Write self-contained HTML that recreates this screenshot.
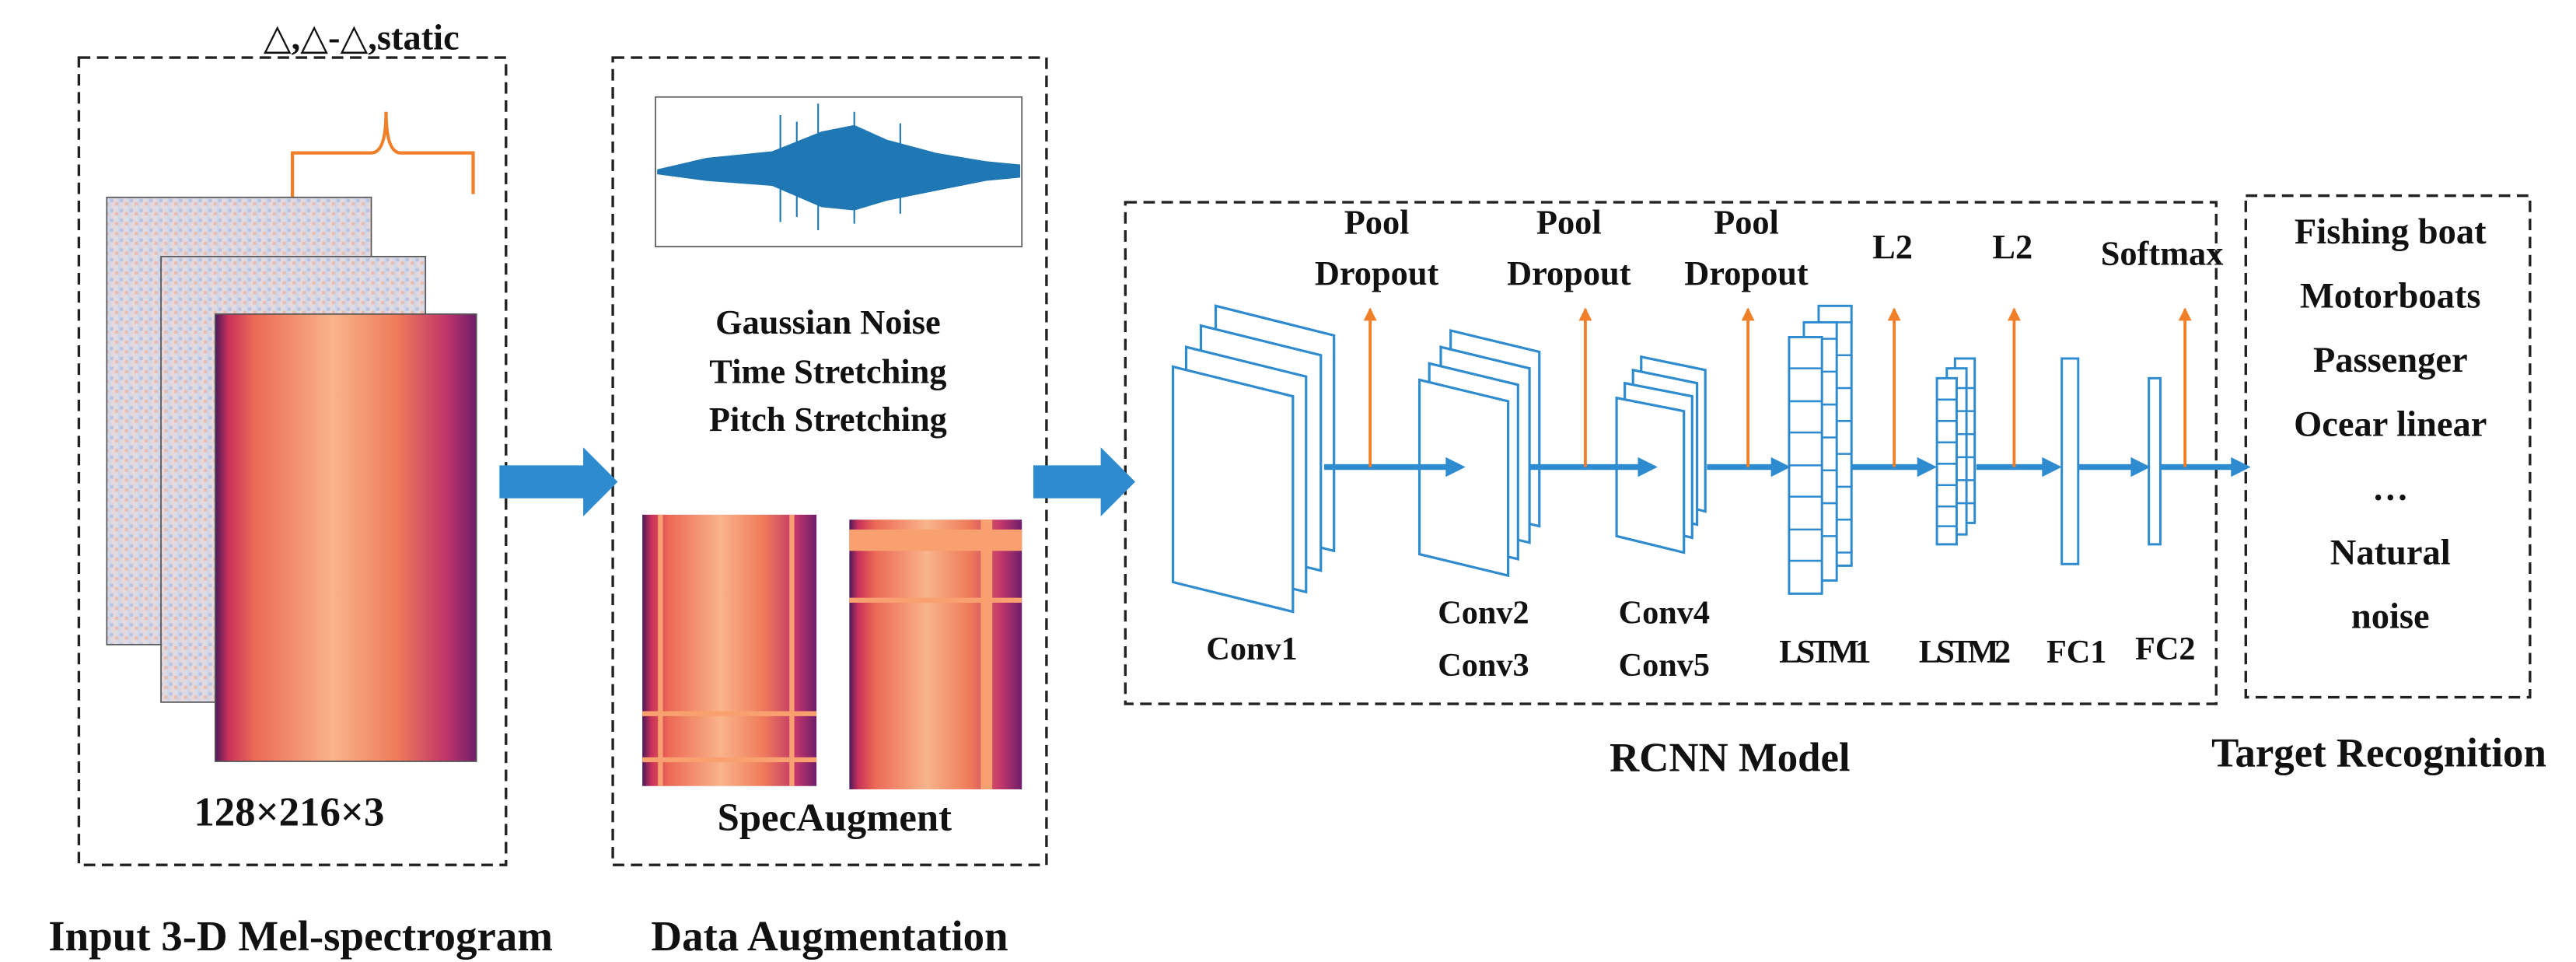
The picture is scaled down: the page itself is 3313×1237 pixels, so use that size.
<!DOCTYPE html>
<html><head><meta charset="utf-8"><style>
html,body{margin:0;padding:0;background:#fff;}
svg{display:block;}
text{font-family:"Liberation Serif","DejaVu Serif",serif;font-weight:bold;fill:#111;}
</style></head><body>
<svg width="3313" height="1237" viewBox="0 0 1568 585" preserveAspectRatio="none" xmlns="http://www.w3.org/2000/svg">
<defs>
<linearGradient id="spec" x1="0" x2="1" y1="0" y2="0">
<stop offset="0" stop-color="#4a1a5a"/><stop offset="0.05" stop-color="#c8305a"/><stop offset="0.15" stop-color="#ec6a55"/><stop offset="0.45" stop-color="#f9b48a"/><stop offset="0.7" stop-color="#ee7a5a"/><stop offset="0.88" stop-color="#c2366a"/><stop offset="1" stop-color="#6e1e6a"/>
</linearGradient>
<linearGradient id="blu" x1="0" x2="1"><stop offset="0" stop-color="#c9d5ec"/><stop offset="0.5" stop-color="#ead8d8"/><stop offset="1" stop-color="#d6dcea"/></linearGradient>
<pattern id="nz" width="6" height="6" patternUnits="userSpaceOnUse"><rect width="6" height="6" fill="url(#blu)"/><rect x="1" y="1" width="2" height="2" fill="#9cb6e4" opacity=".6"/><rect x="4" y="3" width="2" height="2" fill="#f0a890" opacity=".6"/></pattern>
<marker id="ob" markerWidth="8" markerHeight="8" refX="7" refY="4" orient="auto" markerUnits="userSpaceOnUse"><path d="M0,0 L8,4 L0,8Z" fill="#f07f2a"/></marker>
</defs>
<g fill="none" stroke="#222" stroke-width="1.6" stroke-dasharray="7,4">
<rect x="48" y="35" width="260" height="491"/>
<rect x="373" y="35" width="264" height="491"/>
<rect x="685" y="123" width="664" height="305"/>
<rect x="1367" y="119" width="173" height="305"/>
</g>
<!-- box1 -->
<text x="220" y="30" font-size="22" text-anchor="middle">△,△-△,static</text>
<path d="M178,120 V93 H226 Q235,93 235,68 Q235,93 244,93 H288 V118" fill="none" stroke="#f07f2a" stroke-width="2"/>
<rect x="65" y="120" width="161" height="272" fill="url(#nz)" stroke="#555" stroke-width=".8"/>
<rect x="98" y="156" width="161" height="271" fill="url(#nz)" stroke="#555" stroke-width=".8"/>
<rect x="131" y="191" width="159" height="272" fill="url(#spec)" stroke="#555" stroke-width=".8"/>
<text x="176" y="502" font-size="25" text-anchor="middle">128×216×3</text>
<text x="183" y="578" font-size="26" text-anchor="middle">Input 3-D Mel-spectrogram</text>
<!-- box2 -->
<rect x="399" y="59" width="223" height="91" fill="#fff" stroke="#555" stroke-width=".8"/>
<path d="M400,103 L430,96 L470,92 L500,80 L520,76 L540,85 L570,93 L600,98 L621,100 L621,108 L600,110 L570,116 L540,122 L520,128 L500,126 L470,113 L430,110 L400,106Z" fill="#1f77b4"/>
<path d="M475,70 V135 M498,63 V140 M520,68 V136 M548,75 V130 M485,74 V132" stroke="#1f77b4" stroke-width="1"/>
<text x="504" y="203" font-size="21" text-anchor="middle">Gaussian Noise</text>
<text x="504" y="233" font-size="21" text-anchor="middle">Time Stretching</text>
<text x="504" y="262" font-size="21" text-anchor="middle">Pitch Stretching</text>
<rect x="391" y="313" width="106" height="165" fill="url(#spec)"/>
<path d="M391,434 H497 M391,462 H497 M482,313 V478 M402,313 V478" stroke="#f9a070" stroke-width="3"/>
<rect x="517" y="316" width="105" height="164" fill="url(#spec)"/>
<path d="M517,329 H622 M517,365 H622 M600,316 V480" stroke="#f9a070" stroke-width="3"/>
<rect x="517" y="322" width="105" height="13" fill="#f9a070"/>
<rect x="597" y="316" width="7" height="164" fill="#f9a070"/>
<text x="508" y="505" font-size="24" text-anchor="middle">SpecAugment</text>
<text x="505" y="578" font-size="26" text-anchor="middle">Data Augmentation</text>
<!-- big arrows -->
<path d="M304,283 H355 V272 L376,293 L355,314 V303 H304Z" fill="#2e8bd0"/>
<path d="M629,283 H670 V272 L691,293 L670,314 V303 H629Z" fill="#2e8bd0"/>
<!-- conv planes -->
<g fill="#fff" stroke="#2e8bd0" stroke-width="1.5">
<path d="M740,186 L812,204 V335 L740,317Z"/><path d="M731,198 L804,216 V347 L731,329Z"/><path d="M722,211 L795,229 V360 L722,342Z"/><path d="M714,223 L787,241 V372 L714,354Z"/>
<path d="M883,201 L937,214 V320 L883,307Z"/><path d="M877,211 L931,224 V330 L877,317Z"/><path d="M870,221 L924,234 V340 L870,327Z"/><path d="M864,231 L918,244 V350 L864,337Z"/>
<path d="M999,217 L1038,225 V311 L999,301Z"/><path d="M994,225 L1033,233 V319 L994,309Z"/><path d="M989,233 L1030,241 V327 L989,317Z"/><path d="M984,242 L1025,250 V336 L984,326Z"/>
</g>
<!-- LSTM -->
<g fill="#fff" stroke="#2e8bd0" stroke-width="1.4">
<rect x="1107" y="186" width="20" height="158"/><rect x="1098" y="196" width="20" height="157"/><rect x="1089" y="205" width="20" height="156"/>
<rect x="1190" y="218" width="12" height="100"/><rect x="1185" y="224" width="12" height="101"/><rect x="1179" y="230" width="12" height="101"/>
<rect x="1255" y="218" width="10" height="125"/><rect x="1308" y="230" width="7" height="101"/>
</g>
<path d="M1089,224 H1109 M1089,244 H1109 M1089,263 H1109 M1089,283 H1109 M1089,302 H1109 M1089,322 H1109 M1089,341 H1109 M1109,206 H1118 M1109,226 H1118 M1109,246 H1118 M1109,266 H1118 M1109,286 H1118 M1109,306 H1118 M1109,326 H1118 M1118,196 H1127 M1118,216 H1127 M1118,236 H1127 M1118,256 H1127 M1118,276 H1127 M1118,296 H1127 M1118,316 H1127 M1118,336 H1127 M1179,243 H1191 M1179,256 H1191 M1179,269 H1191 M1179,282 H1191 M1179,295 H1191 M1179,308 H1191 M1179,320 H1191 M1191,236 H1202 M1191,250 H1202 M1191,264 H1202 M1191,278 H1202 M1191,292 H1202 M1191,306 H1202" stroke="#2e8bd0" stroke-width="1.2"/>
<!-- flow arrows -->
<g stroke="#2e8bd0" stroke-width="3.5">
<path d="M806,284 H882"/><path d="M931,284 H999"/><path d="M1039,284 H1080"/><path d="M1127,284 H1169"/><path d="M1203,284 H1245"/><path d="M1265,284 H1299"/><path d="M1315,284 H1360"/>
</g>
<g fill="#2e8bd0">
<path d="M880,278 L892,284 L880,290Z"/><path d="M997,278 L1009,284 L997,290Z"/><path d="M1078,278 L1090,284 L1078,290Z"/><path d="M1167,278 L1179,284 L1167,290Z"/><path d="M1243,278 L1255,284 L1243,290Z"/><path d="M1297,278 L1309,284 L1297,290Z"/><path d="M1358,278 L1370,284 L1358,290Z"/>
</g>
<g stroke="#f07f2a" stroke-width="1.8" marker-end="url(#ob)">
<path d="M834,284 V188"/><path d="M965,284 V188"/><path d="M1064,284 V188"/><path d="M1153,284 V188"/><path d="M1226,284 V188"/><path d="M1330,284 V188"/>
</g>
<g font-size="21" text-anchor="middle">
<text x="838" y="142">Pool</text><text x="838" y="173">Dropout</text>
<text x="955" y="142">Pool</text><text x="955" y="173">Dropout</text>
<text x="1063" y="142">Pool</text><text x="1063" y="173">Dropout</text>
<text x="1152" y="157">L2</text><text x="1225" y="157">L2</text><text x="1316" y="161">Softmax</text>
</g>
<g font-size="20" text-anchor="middle">
<text x="762" y="401">Conv1</text>
<text x="903" y="379">Conv2</text><text x="903" y="411">Conv3</text>
<text x="1013" y="379">Conv4</text><text x="1013" y="411">Conv5</text>
<text x="1111" y="403" textLength="56">LSTM1</text><text x="1196" y="403" textLength="56">LSTM2</text>
<text x="1264" y="403">FC1</text><text x="1318" y="401">FC2</text>
</g>
<g font-size="22" text-anchor="middle">
<text x="1455" y="148">Fishing boat</text><text x="1455" y="187">Motorboats</text><text x="1455" y="226">Passenger</text><text x="1455" y="265">Ocear linear</text><text x="1455" y="304">…</text><text x="1455" y="343">Natural</text><text x="1455" y="382">noise</text>
</g>
<text x="1053" y="469" font-size="25" text-anchor="middle">RCNN Model</text>
<text x="1448" y="466" font-size="25" text-anchor="middle">Target Recognition</text>
</svg>
</body></html>
